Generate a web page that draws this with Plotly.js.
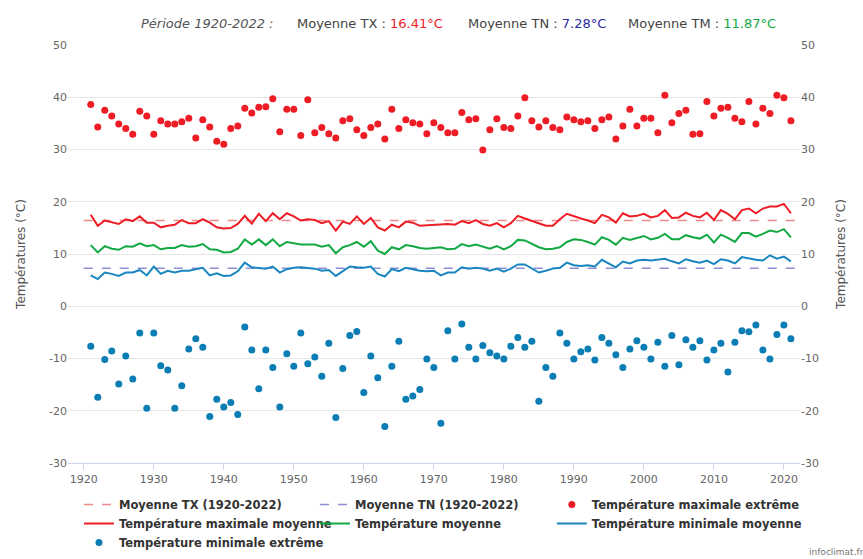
<!DOCTYPE html>
<html>
<head>
<meta charset="utf-8">
<script src="https://cdn.plot.ly/plotly-3.0.1.min.js"></script>
<style>html,body{margin:0;padding:0;background:#fff}#chart{width:863px;height:559px}</style>
</head>
<body>
<div id="chart"></div>
<script>
const years = [];
for (let y = 1921; y <= 2021; y++) years.push(y);

const txExtreme = [38.6,34.3,37.5,36.4,34.9,34.0,32.9,37.3,36.4,32.9,35.5,34.9,34.9,35.3,36.0,32.2,35.7,34.3,31.6,31.0,
  34.0,34.5,37.9,37.0,38.1,38.2,39.7,33.4,37.7,37.7,32.7,39.5,33.2,34.2,33.0,32.2,35.5,35.9,33.8,32.7,
  34.2,34.9,32.0,37.7,34.0,35.7,35.1,34.9,33.0,35.1,34.2,33.2,33.2,37.1,35.7,35.9,29.9,33.8,35.9,34.2,
  34.0,36.4,39.9,35.5,34.3,35.5,34.2,33.8,36.2,35.7,35.3,35.5,34.0,35.7,36.2,32.0,34.5,37.7,34.5,36.0,
  36.0,33.2,40.4,35.1,36.9,37.5,32.9,33.0,39.2,36.4,37.9,38.1,36.0,35.3,39.2,34.9,37.9,36.9,40.4,39.9,35.5];

const txMean = [17.5,15.4,16.4,16.0,15.75,16.65,16.3,17.2,16.0,16.0,15.1,15.4,15.6,16.5,15.9,15.9,16.65,16.0,15.1,14.9,
  14.97,15.75,17.3,15.8,17.7,16.3,17.8,16.65,17.8,17.2,16.4,16.65,16.5,15.9,16.3,14.5,16.2,15.75,17.2,15.75,
  16.9,15.1,14.5,15.6,15.1,16.2,16.0,15.4,15.5,15.6,15.75,15.75,15.6,16.3,15.9,16.5,15.75,15.4,15.9,15.1,
  15.9,17.3,16.8,16.3,15.75,15.4,15.4,16.65,17.7,17.2,16.8,16.4,15.9,17.5,17.0,16.0,17.8,17.2,17.3,17.7,
  17.0,17.3,18.4,16.9,17.0,17.9,17.3,17.0,17.9,16.5,18.4,17.7,16.65,18.4,18.7,17.8,18.7,19.1,19.1,19.6,17.8];

const tmMean = [11.7,10.3,11.5,11.0,10.8,11.5,11.4,12.05,11.5,11.7,10.9,11.15,11.15,11.7,11.4,11.5,11.9,10.9,10.8,10.3,
  10.4,11.0,12.8,11.8,12.8,11.7,12.8,11.5,12.3,12.05,11.8,11.8,11.8,11.4,11.7,10.15,11.3,11.7,12.3,11.4,
  12.45,10.65,10.0,11.3,10.9,11.7,11.5,11.15,11.0,11.15,11.3,10.9,11.0,11.9,11.5,11.8,11.4,11.0,11.5,10.9,
  11.5,12.7,12.6,11.9,11.3,10.9,11.0,11.3,12.3,12.8,12.7,12.3,11.8,13.2,12.7,11.8,13.1,12.7,13.1,13.45,
  12.8,13.1,13.85,12.8,12.8,13.6,13.2,12.95,13.7,12.2,13.7,13.1,12.3,14.0,14.0,13.3,13.85,14.5,14.2,14.75,13.2];

const tnMean = [5.9,5.2,6.45,6.2,5.8,6.45,6.45,6.95,5.9,7.6,6.2,6.8,6.45,6.8,6.8,7.1,7.35,5.9,6.3,5.8,
  5.9,6.7,8.35,7.45,7.35,7.2,7.6,6.45,7.1,7.35,7.45,7.35,7.2,6.8,6.95,5.8,6.7,7.6,7.45,7.35,
  7.6,6.2,5.7,7.1,6.7,7.35,7.1,6.8,6.7,6.8,5.9,6.45,6.45,7.45,7.2,7.35,7.2,6.8,7.2,6.6,
  7.2,8.0,8.0,7.2,6.45,6.8,7.2,7.35,8.35,7.85,7.7,7.85,7.6,8.9,8.2,7.45,8.55,8.2,8.75,8.9,
  8.75,8.9,9.1,8.6,8.2,9.0,8.6,8.35,8.75,8.05,9.0,8.75,8.2,9.4,9.1,8.9,8.75,9.75,9.1,9.5,8.6];

const tnExtreme = [-7.66,-17.4,-10.2,-8.55,-14.9,-9.5,-13.9,-5.1,-19.5,-5.1,-11.4,-12.2,-19.5,-15.2,-8.2,-6.2,-7.85,-21.1,-17.8,-19.3,
  -18.4,-20.7,-3.95,-8.35,-15.8,-8.35,-11.7,-19.3,-9.1,-11.5,-5.1,-11.0,-9.7,-13.4,-7.1,-21.3,-11.9,-5.6,-4.85,-16.5,
  -9.5,-13.7,-23.0,-11.5,-6.7,-17.8,-17.2,-15.95,-10.1,-11.7,-22.4,-4.7,-10.1,-3.4,-7.85,-10.1,-7.5,-8.9,-9.5,-10.1,
  -7.66,-6.0,-7.85,-6.7,-18.2,-11.7,-13.4,-5.1,-7.1,-10.1,-8.7,-8.2,-10.3,-6.0,-7.1,-9.3,-11.7,-8.2,-6.6,-7.85,
  -10.1,-6.9,-11.5,-5.6,-11.2,-6.4,-7.85,-6.6,-10.3,-8.35,-7.1,-12.6,-6.9,-4.7,-4.9,-3.6,-8.35,-10.1,-5.4,-3.6,-6.2];

const periodYears = [1920, 2022];
const meanTX = 16.41;
const meanTN = 7.28;
const meanTM = 11.87;

const xTicks = [1920,1930,1940,1950,1960,1970,1980,1990,2000,2010,2020];
const yTicks = [-30,-20,-10,0,10,20,30,40,50];

const cRed = '#ee1c25', cGreen = '#12a842', cBlue = '#1a86c0', cBlueDot = '#0a7db5';
const cRedDash = '#f08a8a', cBlueDash = '#8e8ed4';

const traces = [
  {x: periodYears, y: [meanTX, meanTX], mode: 'lines', name: 'Moyenne TX (1920-2022)', legend: 'legend',
   line: {color: cRedDash, width: 1.5, dash: 'dash'}, hoverinfo: 'skip'},
  {x: periodYears, y: [meanTN, meanTN], mode: 'lines', name: 'Moyenne TN (1920-2022)', legend: 'legend2',
   line: {color: cBlueDash, width: 1.5, dash: 'dash'}, hoverinfo: 'skip'},
  {x: years, y: txExtreme, mode: 'markers', name: 'Température maximale extrême', legend: 'legend3',
   marker: {color: cRed, size: 7}},
  {x: years, y: txMean, mode: 'lines', name: 'Température maximale moyenne', legend: 'legend',
   line: {color: cRed, width: 2}},
  {x: years, y: tmMean, mode: 'lines', name: 'Température moyenne', legend: 'legend2',
   line: {color: cGreen, width: 2}},
  {x: years, y: tnMean, mode: 'lines', name: 'Température minimale moyenne', legend: 'legend3',
   line: {color: cBlue, width: 2}},
  {x: years, y: tnExtreme, mode: 'markers', name: 'Température minimale extrême', legend: 'legend',
   marker: {color: cBlueDot, size: 7}},
  {x: [null], y: [null], yaxis: 'y2', showlegend: false, hoverinfo: 'skip', mode: 'markers'}
];

const tickFont = {family: 'DejaVu Sans, sans-serif', size: 11, color: '#666'};
const axTitleFont = {family: 'DejaVu Sans, sans-serif', size: 12, color: '#555'};
const legFont = {family: 'DejaVu Sans, sans-serif', size: 11.5, color: '#333', weight: 'bold'};
const legBase = {orientation: 'v', xanchor: 'left', yref: 'container', y: 0.1234, yanchor: 'top',
  tracegroupgap: 0, bgcolor: 'rgba(0,0,0,0)', font: legFont};

const layout = {
  width: 863, height: 559,
  margin: {l: 68, r: 63, t: 45, b: 96},
  paper_bgcolor: '#fff', plot_bgcolor: '#fff',
  showlegend: true,
  xaxis: {range: [1917.75, 2022.3], tickvals: xTicks, ticktext: xTicks.map(String),
    showgrid: false, zeroline: false, showline: true, linecolor: '#ccd6eb', linewidth: 1,
    ticks: 'outside', ticklen: 6, tickcolor: '#ccd6eb', tickfont: tickFont},
  yaxis: {range: [-30, 50], tickvals: yTicks, ticktext: yTicks.map(String),
    gridcolor: '#e6e6e6', zeroline: false, showline: false, tickfont: tickFont,
    title: {text: 'Températures (°C)', font: axTitleFont, standoff: 20}},
  yaxis2: {range: [-30, 50], overlaying: 'y', side: 'right', tickvals: yTicks, ticktext: yTicks.map(String),
    showgrid: false, zeroline: false, tickfont: tickFont,
    title: {text: 'Températures (°C)', font: axTitleFont, standoff: 18}},
  legend: Object.assign({}, legBase, {x: 0.015}),
  legend2: Object.assign({}, legBase, {x: 0.3374}),
  legend3: Object.assign({}, legBase, {x: 0.661}),
  annotations: [
    {xref: 'paper', yref: 'paper', x: 0.191, y: 1.075, xanchor: 'center', showarrow: false,
     text: '<i>Période 1920-2022 :</i>', font: {family: 'DejaVu Sans, sans-serif', size: 13, color: '#555'}},
    {xref: 'paper', yref: 'paper', x: 0.4126, y: 1.075, xanchor: 'center', showarrow: false,
     text: 'Moyenne TX : <span style="color:#ee1c25">' + meanTX.toFixed(2) + '°C</span>',
     font: {family: 'DejaVu Sans, sans-serif', size: 13, color: '#444'}},
    {xref: 'paper', yref: 'paper', x: 0.6407, y: 1.075, xanchor: 'center', showarrow: false,
     text: 'Moyenne TN : <span style="color:#2b2b9e">' + meanTN.toFixed(2) + '°C</span>',
     font: {family: 'DejaVu Sans, sans-serif', size: 13, color: '#444'}},
    {xref: 'paper', yref: 'paper', x: 0.866, y: 1.075, xanchor: 'center', showarrow: false,
     text: 'Moyenne TM : <span style="color:#12a842">' + meanTM.toFixed(2) + '°C</span>',
     font: {family: 'DejaVu Sans, sans-serif', size: 13, color: '#444'}},
    {xref: 'paper', yref: 'paper', x: 1.09, y: -0.213, xanchor: 'right', yanchor: 'middle', showarrow: false,
     text: 'infoclimat.fr', font: {family: 'DejaVu Sans, sans-serif', size: 9, color: '#777'}}
  ]
};

Plotly.newPlot('chart', traces, layout, {displayModeBar: false, staticPlot: true});
</script>
</body>
</html>
